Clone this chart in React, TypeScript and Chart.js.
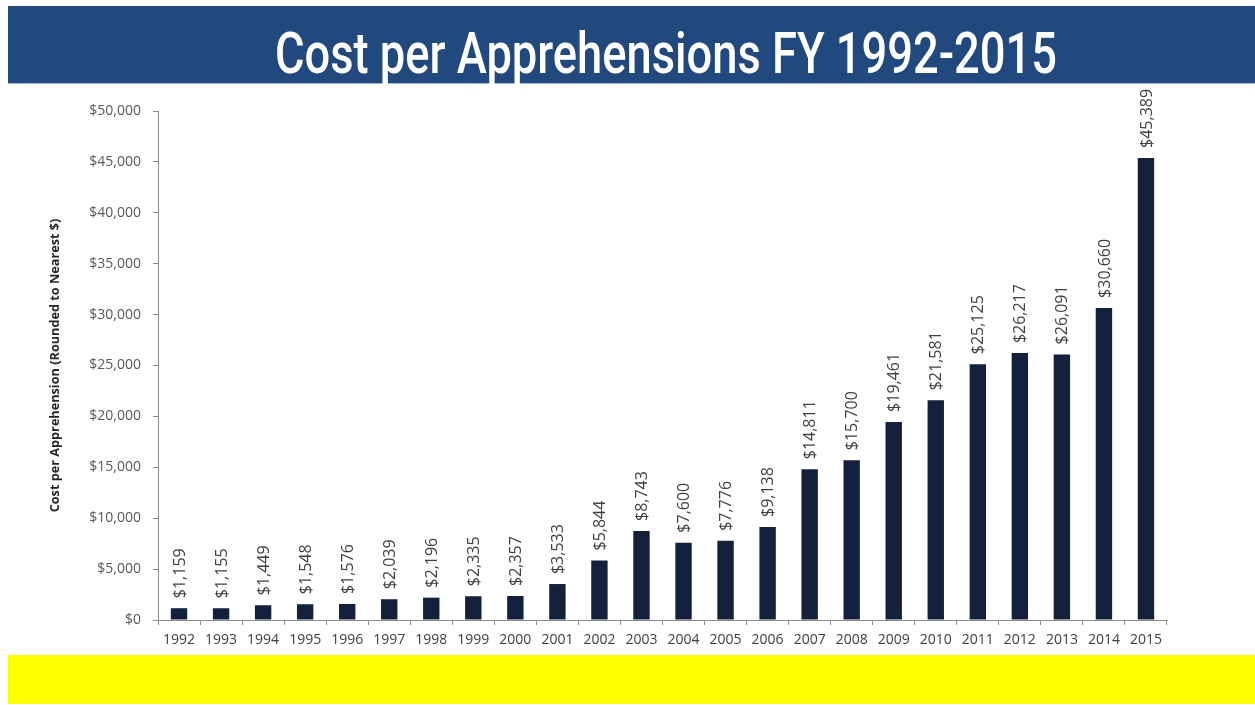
import { useEffect, useRef } from 'react';
import { Chart, registerables } from 'chart.js';

Chart.register(...registerables);

const years = ['1992', '1993', '1994', '1995', '1996', '1997', '1998', '1999', '2000', '2001', '2002', '2003', '2004', '2005', '2006', '2007', '2008', '2009', '2010', '2011', '2012', '2013', '2014', '2015'];
const costs = [1159, 1155, 1449, 1548, 1576, 2039, 2196, 2335, 2357, 3533, 5844, 8743, 7600, 7776, 9138, 14811, 15700, 19461, 21581, 25125, 26217, 26091, 30660, 45389];
const yMin = 0;
const yMax = 50000;
const yStep = 5000;
const titleText = 'Cost per Apprehensions FY 1992-2015';
const yAxisTitle = 'Cost per Apprehension (Rounded to Nearest $)';

const fmt = (v: number) => '$' + v.toLocaleString('en-US');

const barLabels = {
  id: 'barLabels',
  afterDatasetsDraw(chart: any) {
    const ctx = chart.ctx as CanvasRenderingContext2D;
    const meta = chart.getDatasetMeta(0);
    ctx.save();
    ctx.font = '16px "Open Sans"';
    ctx.fillStyle = '#404040';
    ctx.textAlign = 'left';
    ctx.textBaseline = 'middle';
    meta.data.forEach((el: any, i: number) => {
      const { x, y } = el.getProps(['x', 'y'], true);
      ctx.save();
      ctx.translate(x + 1, y - 10);
      ctx.rotate(-Math.PI / 2);
      ctx.fillText(fmt(costs[i]), 0, 0);
      ctx.restore();
    });
    ctx.restore();
  },
};

export default function App() {
  const canvasRef = useRef<HTMLCanvasElement>(null);
  const titleRef = useRef<HTMLSpanElement>(null);

  useEffect(() => {
    const fit = () => {
      const t = titleRef.current;
      if (t) {
        t.style.transform = 'none';
        const w = t.getBoundingClientRect().width;
        if (w > 0) t.style.transform = `scaleX(${782 / w})`;
      }
    };
    fit();
    (document as any).fonts?.ready?.then(fit);

    const chart = new Chart(canvasRef.current!, {
      type: 'bar',
      data: {
        labels: years,
        datasets: [
          {
            data: costs,
            backgroundColor: '#13213D',
            borderWidth: 0,
            barPercentage: 0.39,
            categoryPercentage: 1,
          },
        ],
      },
      options: {
        animation: false,
        responsive: true,
        maintainAspectRatio: false,
        layout: { padding: { top: 27, right: 88, left: 0, bottom: 0 } },
        plugins: {
          legend: { display: false },
          tooltip: { enabled: false },
        },
        scales: {
          x: {
            grid: {
              display: true,
              drawOnChartArea: false,
              drawTicks: true,
              tickLength: 5,
              color: '#8c8c8c',
              offset: true,
            },
            border: { color: '#8c8c8c', width: 1 },
            ticks: {
              color: '#404040',
              font: { family: '"Open Sans"', size: 14 },
              padding: 7,
              maxRotation: 0,
              autoSkip: false,
            },
            afterFit: (s: any) => {
              s.height = 35;
            },
          },
          y: {
            min: yMin,
            max: yMax,
            grid: {
              display: true,
              drawOnChartArea: false,
              drawTicks: true,
              tickLength: 5,
              color: '#8c8c8c',
            },
            border: { color: '#8c8c8c', width: 1 },
            ticks: {
              stepSize: yStep,
              color: '#595959',
              font: { family: '"Open Sans"', size: 14 },
              padding: 12,
              callback: (v: any) => fmt(Number(v)),
            },
            title: {
              display: true,
              text: yAxisTitle,
              color: '#262626',
              font: { family: '"Open Sans"', size: 12.7, weight: 'bold' },
              padding: { top: 48, bottom: 0 },
            },
            afterFit: (s: any) => {
              s.width = 158;
            },
          },
        },
      },
      plugins: [barLabels],
    } as any);
    return () => chart.destroy();
  }, []);

  return (
    <div style={{ position: 'absolute', left: 0, top: 0, width: 1255, height: 705, background: '#ffffff', overflow: 'hidden' }}>
      <div style={{ position: 'absolute', left: 8, top: 6, width: 1247, height: 77, background: '#22497E' }} />
      <div style={{ position: 'absolute', left: 8, top: 83, width: 1247, height: 1, background: '#9DB8D8' }} />
      <span
        ref={titleRef}
        style={{
          position: 'absolute',
          left: 275,
          top: 24,
          whiteSpace: 'nowrap',
          fontFamily: 'Roboto, "DejaVu Sans Condensed", sans-serif',
          fontWeight: 500,
          fontSize: 58,
          lineHeight: '58px',
          color: '#ffffff',
          transformOrigin: 'left center',
          display: 'inline-block',
        }}
      >
        {titleText}
      </span>
      <div style={{ position: 'absolute', left: 0, top: 84, width: 1255, height: 571 }}>
        <canvas ref={canvasRef} />
      </div>
      <div style={{ position: 'absolute', left: 8, top: 655, width: 1247, height: 49, background: '#FFFF00' }} />
    </div>
  );
}
